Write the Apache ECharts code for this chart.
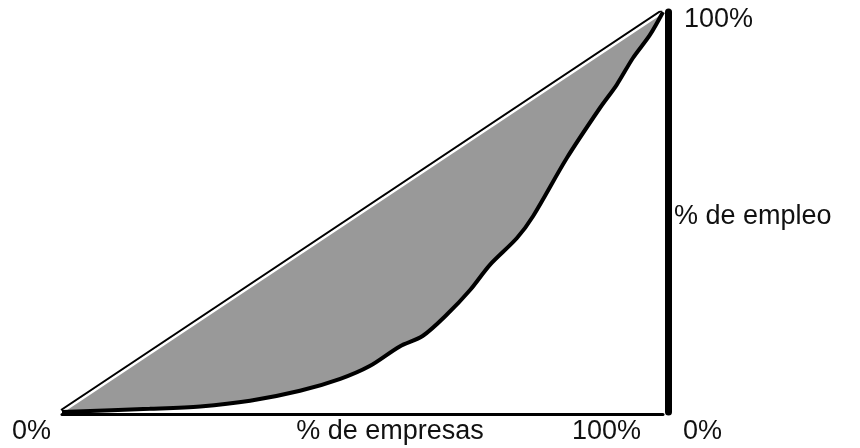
<!DOCTYPE html>
<html>
<head>
<meta charset="utf-8">
<script src="https://cdn.jsdelivr.net/npm/echarts@6/dist/echarts.min.js"></script>
<style>
  html, body { margin: 0; padding: 0; background: #fff; }
  #chart { width: 860px; height: 448px; }
</style>
</head>
<body>
<div id="chart"></div>
<script>
// curva de Lorenz: % acumulado de empresas vs % acumulado de empleo
const empresas = [0, 14.6, 23, 31.3, 39.6, 46.3, 51.2, 56.2, 60, 64, 67.9, 71.2, 75.7, 78.4, 84, 89.5, 92.3, 95, 97.8, 100];
const empleo   = [0, 0.8, 1.4, 2.8, 5.3, 8.3, 11.5, 16.4, 19, 24.3, 30.5, 36.8, 43.5, 49, 63.5, 76, 81.8, 88.5, 94.2, 100];
const igualdad = [[0, 0], [100, 100]];

const xTicks = ['0%', '100%'];
const yTicks = ['0%', '100%'];
const xTitle = '% de empresas';
const yTitle = '% de empleo';

const FONT = '"Liberation Sans", Arial, sans-serif';
const txt = (x, y, text, align) => ({
  type: 'text', x: x, y: y,
  style: { text, font: '27px ' + FONT, fill: '#111', align: align || 'left', verticalAlign: 'middle' }
});

const chart = echarts.init(document.getElementById('chart'));
chart.setOption({
  animation: false,
  grid: { left: 62, right: 197, top: 12, bottom: 36 },
  xAxis: {
    type: 'value', min: 0, max: 100, z: 10,
    axisLine: { show: true, onZero: false, lineStyle: { color: '#000', width: 3 } },
    axisTick: { show: false }, axisLabel: { show: false }, splitLine: { show: false },
    offset: 2
  },
  yAxis: {
    type: 'value', min: 0, max: 100, position: 'right', z: 10,
    axisLine: { show: true, onZero: false, lineStyle: { color: '#000', width: 7 } },
    axisTick: { show: false }, axisLabel: { show: false }, splitLine: { show: false },
    offset: 5
  },
  series: [
    {
      type: 'line', data: igualdad, symbol: 'none',
      lineStyle: { color: '#fff', width: 2.5, shadowColor: '#000', shadowBlur: 0, shadowOffsetX: -0.8, shadowOffsetY: -1.8 },
      areaStyle: { color: '#999999', opacity: 1 }
    },
    {
      type: 'line', data: empresas.map((v, i) => [v, empleo[i]]), symbol: 'none', smooth: 0.3,
      lineStyle: { color: '#000', width: 4 },
      areaStyle: { color: '#fff', opacity: 1 }
    }
  ],
  graphic: [
    txt(12, 432, xTicks[0]),
    txt(390, 432, xTitle, 'center'),
    txt(572, 432, xTicks[1]),
    txt(683, 432, yTicks[0]),
    txt(684, 20, yTicks[1]),
    txt(674, 217, yTitle)
  ]
});
</script>
</body>
</html>
